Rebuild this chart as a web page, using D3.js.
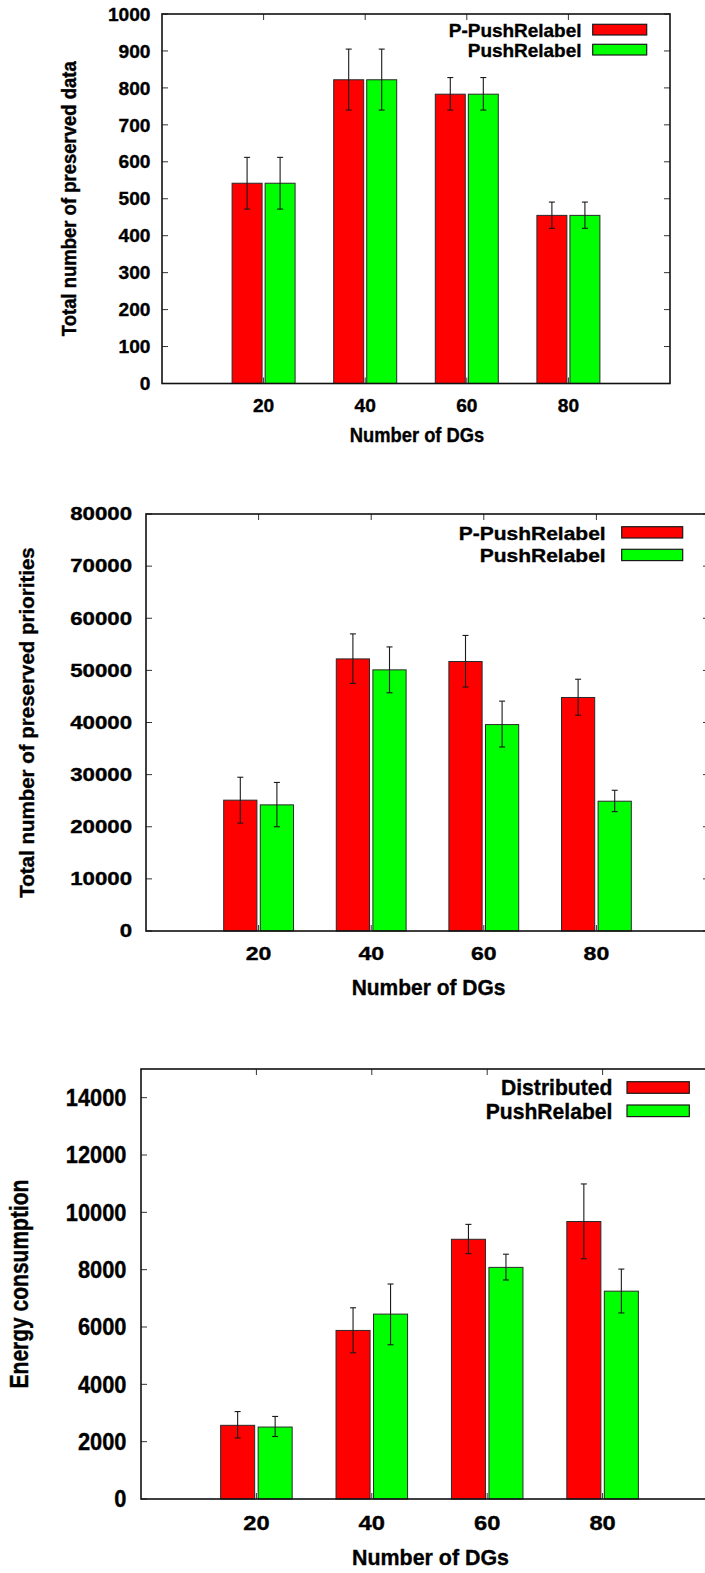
<!DOCTYPE html>
<html>
<head>
<meta charset="utf-8">
<script src="https://cdn.jsdelivr.net/npm/d3@7/dist/d3.min.js"></script>
<style>
  html, body { margin: 0; padding: 0; background: #fff; }
  svg { display: block; }
  text { font-family: "Liberation Sans", Arial, Helvetica, sans-serif; font-weight: bold; fill: #000;
         stroke: #000; stroke-width: 0.35px; }
</style>
</head>
<body>
<svg id="fig" width="705" height="1573"></svg>
<script>
// ---- Data ----------------------------------------------------------------
const dgCounts = [20, 40, 60, 80];

// Total number of preserved data
const dataTicks = [0, 100, 200, 300, 400, 500, 600, 700, 800, 900, 1000];
const dataPPushRelabel     = [542, 822, 783, 455];
const dataPPushRelabelLow  = [472, 740, 740, 420];
const dataPPushRelabelHigh = [612, 905, 828, 491];
const dataPushRelabel      = [542, 822, 783, 455];
const dataPushRelabelLow   = [472, 740, 740, 420];
const dataPushRelabelHigh  = [612, 905, 828, 491];

// Total number of preserved priorities
const prioTicks = [0, 10000, 20000, 30000, 40000, 50000, 60000, 70000, 80000];
const prioPPushRelabel     = [25100, 52200, 51700, 44800];
const prioPPushRelabelLow  = [20700, 47500, 46800, 41400];
const prioPPushRelabelHigh = [29500, 57000, 56700, 48300];
const prioPushRelabel      = [24200, 50100, 39600, 24900];
const prioPushRelabelLow   = [20000, 45700, 35300, 22900];
const prioPushRelabelHigh  = [28500, 54500, 44100, 27000];

// Energy consumption
const energyTicks = [0, 2000, 4000, 6000, 8000, 10000, 12000, 14000];
const energyDistributed     = [2570, 5880, 9060, 9680];
const energyDistributedLow  = [2130, 5100, 8560, 8380];
const energyDistributedHigh = [3050, 6670, 9580, 10990];
const energyPushRelabel     = [2510, 6450, 8080, 7250];
const energyPushRelabelLow  = [2180, 5380, 7640, 6490];
const energyPushRelabelHigh = [2880, 7500, 8540, 8020];

const RED = "#ff0000", GREEN = "#00ff00";

// ---- Panels --------------------------------------------------------------
const panels = [
  {
    yLabel: "Total number of preserved data", yMax: 1000, yTicks: dataTicks,
    series: [
      { name: "P-PushRelabel", color: RED,   v: dataPPushRelabel, lo: dataPPushRelabelLow, hi: dataPPushRelabelHigh },
      { name: "PushRelabel",   color: GREEN, v: dataPushRelabel,  lo: dataPushRelabelLow,  hi: dataPushRelabelHigh }
    ],
    box: { left: 162, right: 670, top: 14, bottom: 383.5 },
    yTickText: { size: 18.6, sx: 1.03, right: 150.5 },
    xTickText: { size: 18.6, sx: 1.03, base: 411.5 },
    xTitle: { size: 19.5, sx: 0.94, base: 441.5 },
    yTitle: { size: 18.5, sx: 1.12, base: 76 },
    legend: { size: 18.6, sx: 1.02, right: 581.5, base: [36.5, 56.5],
              sw: { x0: 592.7, x1: 646.7, y: [24.3, 44.3], h: 10.7 } }
  },
  {
    yLabel: "Total number of preserved priorities", yMax: 80000, yTicks: prioTicks,
    series: [
      { name: "P-PushRelabel", color: RED,   v: prioPPushRelabel, lo: prioPPushRelabelLow, hi: prioPPushRelabelHigh },
      { name: "PushRelabel",   color: GREEN, v: prioPushRelabel,  lo: prioPushRelabelLow,  hi: prioPushRelabelHigh }
    ],
    box: { left: 146, right: 709, top: 514, bottom: 931 },
    yTickText: { size: 17.5, sx: 1.27, right: 132 },
    xTickText: { size: 18.6, sx: 1.24, base: 959.5 },
    xTitle: { size: 21.4, sx: 0.98, base: 994.5 },
    yTitle: { size: 20.5, sx: 1.0, base: 33.5 },
    legend: { size: 18.6, sx: 1.13, right: 605.7, base: [540, 561.7],
              sw: { x0: 621.7, x1: 682.7, y: [526.7, 549.3], h: 11.3 } }
  },
  {
    yLabel: "Energy consumption", yMax: 15000, yTicks: energyTicks,
    series: [
      { name: "Distributed", color: RED,   v: energyDistributed, lo: energyDistributedLow, hi: energyDistributedHigh },
      { name: "PushRelabel", color: GREEN, v: energyPushRelabel, lo: energyPushRelabelLow, hi: energyPushRelabelHigh }
    ],
    box: { left: 141, right: 718, top: 1069, bottom: 1499 },
    yTickText: { size: 23, sx: 0.95, right: 126.5 },
    xTickText: { size: 21, sx: 1.13, base: 1530 },
    xTitle: { size: 22.3, sx: 0.96, base: 1565 },
    yTitle: { size: 21, sx: 1.2, base: 28 },
    legend: { size: 22, sx: 0.96, right: 612.4, base: [1095, 1119],
              sw: { x0: 627, x1: 689.3, y: [1081.7, 1105], h: 11.6 } }
  }
];

const svg = d3.select("#fig");

// Text with an optional horizontal stretch and rotation
function putText(g, str, x, y, size, sx, anchor, rot) {
  return g.append("text")
    .attr("transform", `translate(${x},${y}) scale(${sx},1)` + (rot ? ` rotate(${rot})` : ""))
    .attr("text-anchor", anchor)
    .style("font-size", size + "px")
    .text(str);
}

panels.forEach(p => {
  const g = svg.append("g");
  const b = p.box;
  const x = d3.scaleLinear().domain([0, 100]).range([b.left, b.right]);
  const y = d3.scaleLinear().domain([0, p.yMax]).range([b.bottom, b.top]);

  // bars: two boxes per group, errorbar at each box centre
  const halfGap = 0.3, boxW = 5.9;
  p.series.forEach((s, si) => {
    const x0 = c => si === 0 ? c - halfGap - boxW : c + halfGap;
    g.selectAll(null).data(dgCounts).join("rect")
      .attr("x", c => x(x0(c)))
      .attr("width", c => x(x0(c) + boxW) - x(x0(c)))
      .attr("y", (c, i) => y(s.v[i]))
      .attr("height", (c, i) => y(0) - y(s.v[i]))
      .attr("fill", s.color)
      .attr("stroke", "#2a2a2a").attr("stroke-width", 1);
  });
  p.series.forEach((s, si) => {
    const xc = c => x(si === 0 ? c - halfGap - boxW / 2 : c + halfGap + boxW / 2);
    const eb = g.selectAll(null).data(dgCounts).join("g")
      .attr("stroke", "#1a1a1a").attr("stroke-width", 1.1);
    eb.append("line").attr("x1", xc).attr("x2", xc)
      .attr("y1", (c, i) => y(s.lo[i])).attr("y2", (c, i) => y(s.hi[i]));
    eb.append("line").attr("x1", c => xc(c) - 3).attr("x2", c => xc(c) + 3)
      .attr("y1", (c, i) => y(s.lo[i])).attr("y2", (c, i) => y(s.lo[i]));
    eb.append("line").attr("x1", c => xc(c) - 3).attr("x2", c => xc(c) + 3)
      .attr("y1", (c, i) => y(s.hi[i])).attr("y2", (c, i) => y(s.hi[i]));
  });

  // mirrored inward ticks on all four sides
  const tl = 6;
  const ticks = g.append("g").attr("stroke", "#333").attr("stroke-width", 1);
  p.yTicks.forEach(t => {
    ticks.append("line").attr("x1", b.left).attr("x2", b.left + tl).attr("y1", y(t)).attr("y2", y(t));
    ticks.append("line").attr("x1", b.right).attr("x2", b.right - tl).attr("y1", y(t)).attr("y2", y(t));
  });
  dgCounts.forEach(c => {
    ticks.append("line").attr("x1", x(c)).attr("x2", x(c)).attr("y1", b.bottom).attr("y2", b.bottom - tl);
    ticks.append("line").attr("x1", x(c)).attr("x2", x(c)).attr("y1", b.top).attr("y2", b.top + tl);
  });

  // frame
  g.append("rect")
    .attr("x", b.left).attr("y", b.top)
    .attr("width", b.right - b.left).attr("height", b.bottom - b.top)
    .attr("fill", "none").attr("stroke", "#111").attr("stroke-width", 1.6);

  // tick labels
  const yt = p.yTickText;
  p.yTicks.forEach(t => putText(g, d3.format("d")(t), yt.right, y(t) + 0.36 * yt.size, yt.size, yt.sx, "end"));
  const xt = p.xTickText;
  dgCounts.forEach(c => putText(g, String(c), x(c), xt.base, xt.size, xt.sx, "middle"));

  // axis titles
  putText(g, "Number of DGs", (b.left + b.right) / 2 + 1, p.xTitle.base, p.xTitle.size, p.xTitle.sx, "middle");
  putText(g, p.yLabel, p.yTitle.base, (b.top + b.bottom) / 2, p.yTitle.size, p.yTitle.sx, "middle", -90);

  // legend
  const L = p.legend;
  p.series.forEach((s, si) => {
    putText(g, s.name, L.right, L.base[si], L.size, L.sx, "end");
    g.append("rect")
      .attr("x", L.sw.x0).attr("y", L.sw.y[si])
      .attr("width", L.sw.x1 - L.sw.x0).attr("height", L.sw.h)
      .attr("fill", s.color).attr("stroke", "#1a1a1a").attr("stroke-width", 1.2);
  });
});
</script>
</body>
</html>
